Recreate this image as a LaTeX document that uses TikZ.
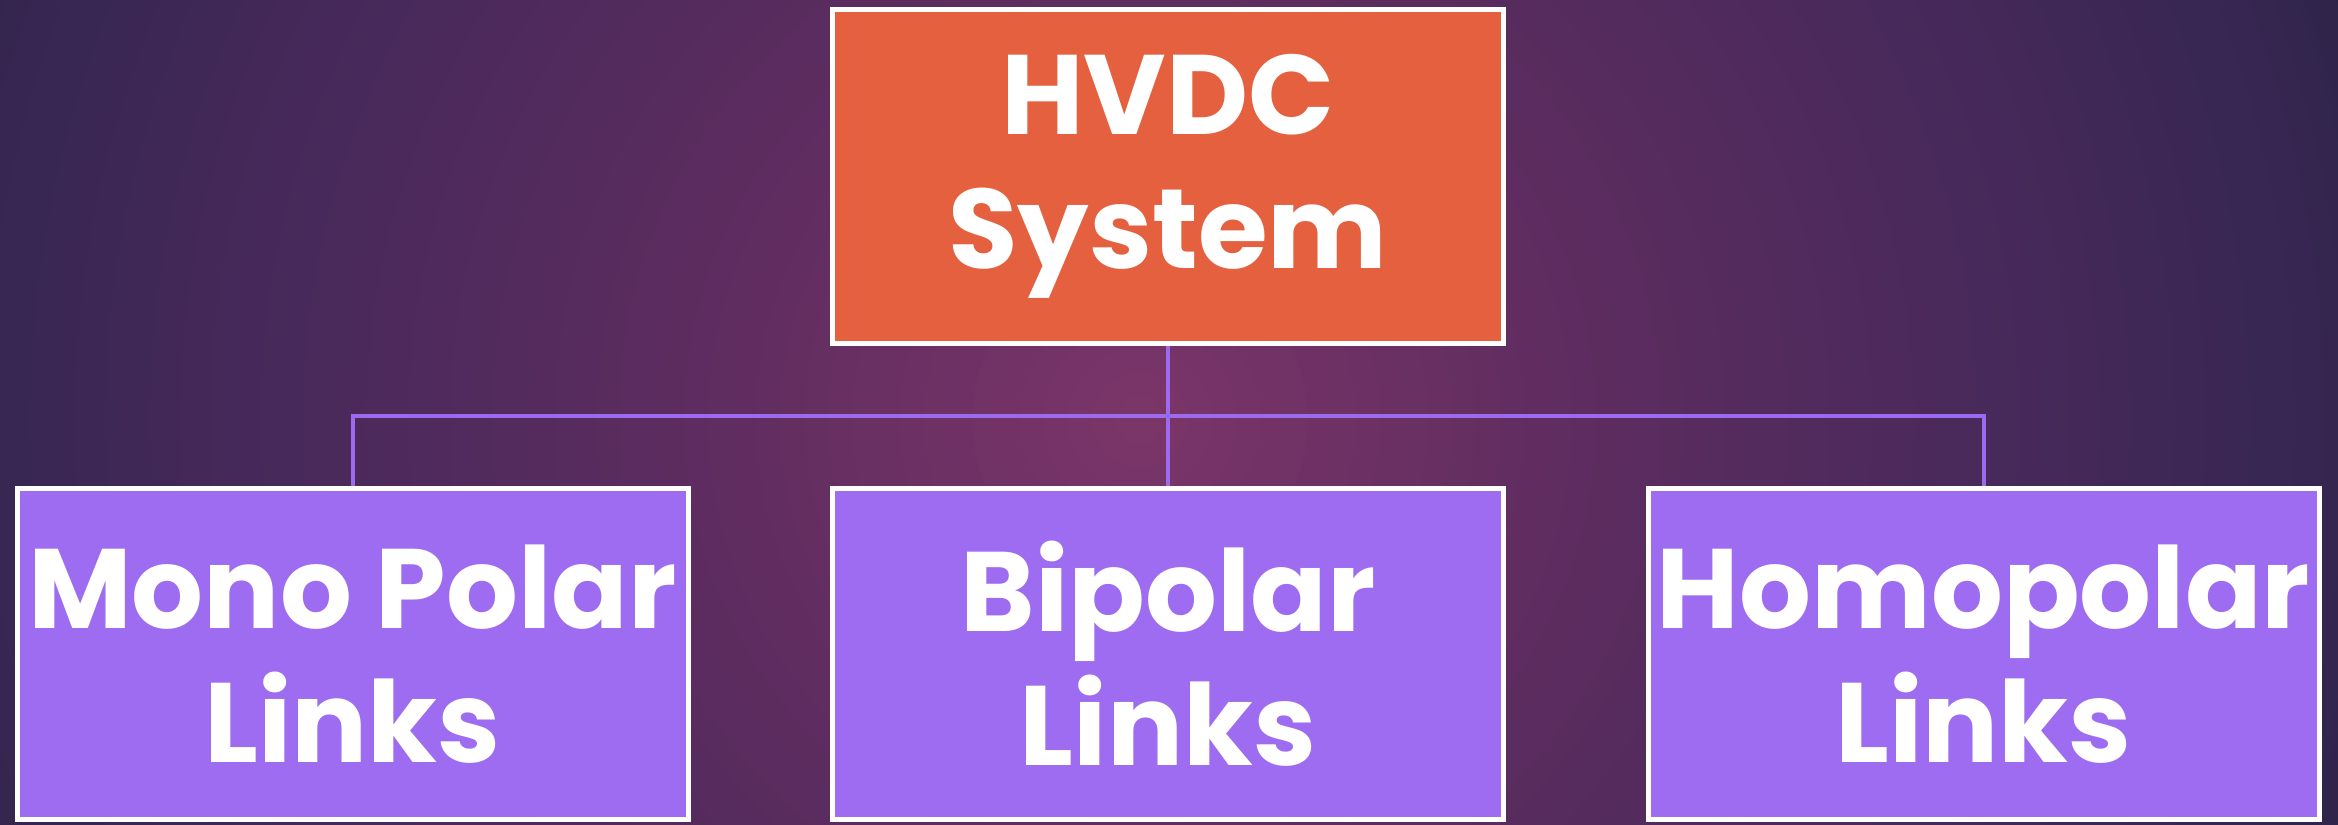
\documentclass[tikz,border=0pt]{standalone}
\usepackage{fontspec}
\setmainfont{Poppins}[BoldFont={* Bold}]
\newfontfamily\boxfont{Poppins Bold}
\pgfdeclarelayer{bglayer}
\pgfdeclarelayer{connlayer}
\pgfsetlayers{bglayer,connlayer,main}
\definecolor{bgA}{HTML}{7C3569}
\definecolor{bgB}{HTML}{5C2C5F}
\definecolor{bgC}{HTML}{46295A}
\definecolor{bgD}{HTML}{352650}
\definecolor{bgE}{HTML}{282143}
\definecolor{topfill}{HTML}{E4603E}
\definecolor{subfill}{HTML}{9D6CF0}
\definecolor{connc}{HTML}{9B6AEE}
\begin{document}
\begin{tikzpicture}[x=0.5pt,y=-0.5pt,
  boxstyle/.style={draw=white, line width=2.5pt, text=white, align=center,
    font=\boxfont\fontsize{56.5}{67}\selectfont, inner sep=0pt,
    minimum width=335.5pt},
  topbox/.style={boxstyle, fill=topfill, minimum height=167pt},
  subbox/.style={boxstyle, fill=subfill, minimum height=165.5pt},
  conn/.style={draw=connc, line width=2pt}]
\useasboundingbox (0,0) rectangle (2338,824);
\begin{pgfonlayer}{bglayer}
\clip (0,0) rectangle (2338,824);
\fill[bgE] (0,0) rectangle (2338,824);
\coordinate (bgc) at (1140,420);
\foreach \ro/\ri/\ci/\co in {1350/1200/bgD/bgE, 1200/900/bgC/bgD, 900/480/bgB/bgC, 480/0/bgA/bgB} {
  \foreach \k in {0,...,19} {
    \pgfmathsetmacro\r{\ro-(\ro-\ri)*\k/20}
    \pgfmathtruncatemacro\p{\k*5}
    \fill[\ci!\p!\co] (bgc) circle[radius=\r];
  }
}
\end{pgfonlayer}
\node[topbox] (hvdc) at (1168,176.5) {HVDC\\System};
\node[subbox] (mono) at (352.5,654) {Mono Polar\\Links};
\node[subbox] (bi) at (1168,654) {Bipolar\\Links};
\node[subbox] (homo) at (1983.5,654) {Homopolar\\Links};
\coordinate (bus) at (1168,416);
\begin{pgfonlayer}{connlayer}
\draw[conn] (hvdc.south) -- (bus) -- (bi.north);
\draw[conn] (mono.north) -- (mono.north |- bus) -- (homo.north |- bus) -- (homo.north);
\end{pgfonlayer}
\end{tikzpicture}
\end{document}
